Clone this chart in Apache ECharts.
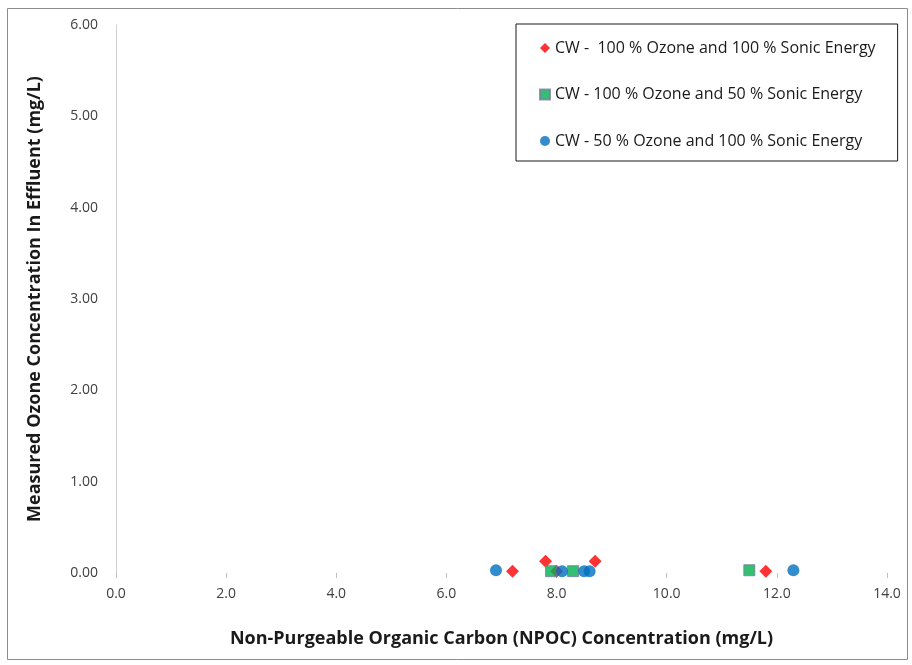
<!DOCTYPE html>
<html>
<head>
<meta charset="utf-8">
<script src="https://cdn.jsdelivr.net/npm/echarts@6/dist/echarts.min.js"></script>
<style>
  html, body { margin: 0; padding: 0; background: #fff; }
  #chart { width: 912px; height: 665px; }
</style>
</head>
<body>
<div id="chart"></div>
<script>
// NPOC concentration (mg/L) vs measured ozone in effluent (mg/L)
const seriesNames = [
  'CW -  100 % Ozone and 100 % Sonic Energy',
  'CW - 100 % Ozone and 50 % Sonic Energy',
  'CW - 50 % Ozone and 100 % Sonic Energy'
];
const ozone100Sonic100 = [[7.2, 0.02], [7.8, 0.13], [8.0, 0.02], [8.7, 0.13], [11.8, 0.02]];
const ozone100Sonic50 = [[7.9, 0.02], [8.3, 0.02], [11.5, 0.03]];
const ozone50Sonic100 = [[6.9, 0.03], [8.1, 0.02], [8.5, 0.02], [8.6, 0.02], [12.3, 0.03]];

const xTitle = 'Non-Purgeable Organic Carbon (NPOC) Concentration (mg/L)';
const yTitle = 'Measured Ozone Concentration In Effluent (mg/L)';

const font = '"Open Sans", "Liberation Sans", sans-serif';
const chart = echarts.init(document.getElementById('chart'), null, { renderer: 'canvas' });

chart.setOption({
  backgroundColor: '#fff',
  animation: false,
  graphic: [{
    type: 'rect',
    shape: { x: 7.5, y: 8.5, width: 900, height: 651 },
    style: { fill: 'none', stroke: '#8c8c8c', lineWidth: 1 },
    silent: true
  }],
  grid: { left: 116, right: 25, top: 25, bottom: 92, containLabel: false },
  legend: {
    orient: 'vertical',
    left: 516,
    top: 24,
    padding: [16, 22, 12, 23],
    itemGap: 30.5,
    itemWidth: 10,
    itemHeight: 10,
    borderColor: '#1a1a1a',
    borderWidth: 1,
    textStyle: { fontFamily: font, fontSize: 16, lineHeight: 16, color: '#1a1a1a' },
    data: [
      { name: seriesNames[0], icon: 'diamond', itemStyle: { color: '#ff0000' } },
      { name: seriesNames[1], icon: 'rect', itemStyle: { color: '#00b050' } },
      { name: seriesNames[2], icon: 'circle', itemStyle: { color: '#0070c0' } }
    ]
  },
  xAxis: {
    type: 'value',
    min: 0, max: 14, interval: 2,
    name: xTitle,
    nameLocation: 'middle',
    nameGap: 57,
    nameTextStyle: { fontFamily: font, fontSize: 18, fontWeight: 'bold', color: '#1a1a1a' },
    axisLine: { show: false },
    axisTick: { show: true, length: 5, lineStyle: { color: '#bfbfbf' } },
    axisLabel: { fontFamily: font, fontSize: 14, color: '#404040', margin: 14,
      formatter: v => v.toFixed(1) },
    splitLine: { show: false }
  },
  yAxis: {
    type: 'value',
    min: 0, max: 6, interval: 1,
    name: yTitle,
    nameLocation: 'middle',
    nameGap: 72,
    nameRotate: 90,
    nameTextStyle: { fontFamily: font, fontSize: 18, fontWeight: 'bold', color: '#1a1a1a' },
    axisLine: { show: true, lineStyle: { color: '#cfcfcf' } },
    axisTick: { show: false },
    axisLabel: { fontFamily: font, fontSize: 14, color: '#404040', margin: 18,
      formatter: v => v.toFixed(2) },
    splitLine: { show: false }
  },
  series: [
    {
      name: seriesNames[0], type: 'scatter', symbol: 'diamond', symbolSize: 13,
      itemStyle: { color: '#ff0000' }, data: ozone100Sonic100
    },
    {
      name: seriesNames[1], type: 'scatter', symbol: 'rect', symbolSize: 11,
      itemStyle: { color: '#00b050', borderColor: '#7a7aa0', borderWidth: 1 }, data: ozone100Sonic50
    },
    {
      name: seriesNames[2], type: 'scatter', symbol: 'circle', symbolSize: 12,
      itemStyle: { color: '#0070c0' }, data: ozone50Sonic100
    }
  ]
});
</script>
</body>
</html>
